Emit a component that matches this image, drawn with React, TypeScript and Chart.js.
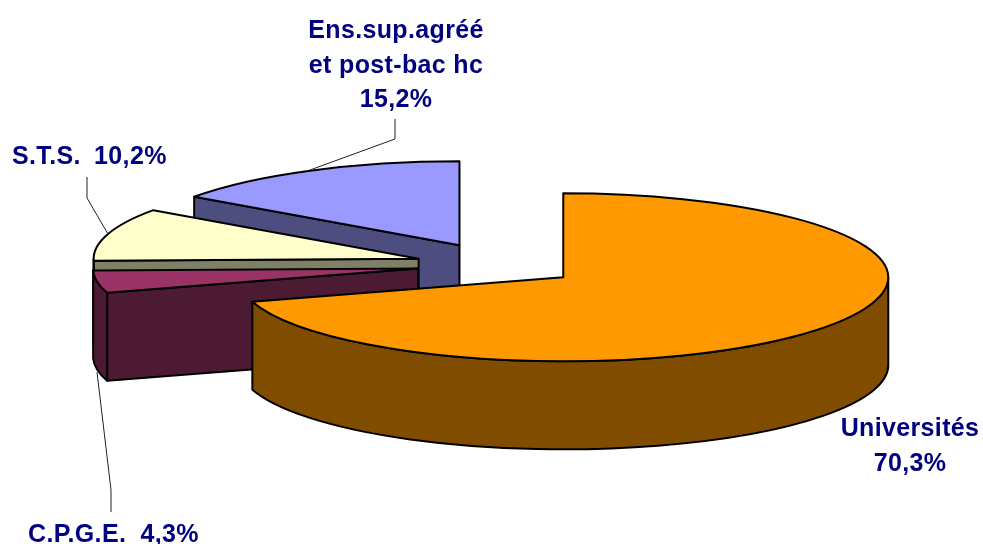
import React, { useEffect, useRef } from "react";
import { Chart, registerables } from "chart.js";

Chart.register(...registerables);

const categories = ["Universités", "C.P.G.E.", "S.T.S.", "Ens.sup.agréé et post-bac hc"];
const shares = [70.3, 4.3, 10.2, 15.2];
const topColors = ["#FF9900", "#993366", "#FFFFCC", "#9999FF"];
const wallColors = ["#804D00", "#4D1A33", "#808066", "#4D4D80"];
const labelLines = [["Universités", "70,3%"], ["C.P.G.E. 4,3%"], ["S.T.S. 10,2%"], ["Ens.sup.agréé", "et post-bac hc", "15,2%"]];
const labelAnchors: [number, number, CanvasTextAlign][] = [[910, 436, "center"], [28, 542, "left"], [12, 164, "left"], [396, 38, "center"]];
const labelWordGaps = [0, 7, 6, 0];
const leaders = [
  [] as number[][],
  [[111, 512], [111, 490], [97, 372]],
  [[87, 177], [87, 198], [108, 234]],
  [[395, 119], [395, 139], [310, 170]],
];
const explodeBy = [80, 82, 84, 86];
const drawOrder = [3, 2, 1, 0];

const RADIUS = 325;
const TILT = 0.2585;
const DEPTH = 88;
const LABEL_FONT = "bold 25px 'Liberation Sans', Arial, sans-serif";

const pie3d = {
  id: "pie3d",
  beforeDatasetsDraw(chart: any) {
    const ctx: CanvasRenderingContext2D = chart.ctx;
    const arcs = chart.getDatasetMeta(0).data;
    drawOrder.forEach((i) => {
      const el = arcs[i];
      const { x, y, startAngle, endAngle, outerRadius: R } = el;
      const mid = (startAngle + endAngle) / 2;
      const cx = x + Math.cos(mid) * explodeBy[i];
      const cy = y + Math.sin(mid) * explodeBy[i] * TILT;
      const px = (a: number) => cx + R * Math.cos(a);
      const py = (a: number) => cy + R * TILT * Math.sin(a);

      ctx.save();
      ctx.lineWidth = 2;
      ctx.lineJoin = "round";
      ctx.strokeStyle = "#000";
      ctx.fillStyle = wallColors[i];

      // Only the radial wall of the start edge can face the viewer here.
      if (Math.sin(startAngle - Math.PI / 2) > 0.01) {
        const a = startAngle;
        ctx.beginPath();
        ctx.moveTo(cx, cy);
        ctx.lineTo(px(a), py(a));
        ctx.lineTo(px(a), py(a) + DEPTH);
        ctx.lineTo(cx, cy + DEPTH);
        ctx.closePath();
        ctx.fill();
        ctx.stroke();
      }

      const a0 = Math.max(startAngle, 0);
      const a1 = Math.min(endAngle, Math.PI);
      if (a1 > a0) {
        ctx.beginPath();
        ctx.ellipse(cx, cy, R, R * TILT, 0, a0, a1);
        ctx.lineTo(px(a1), py(a1) + DEPTH);
        ctx.ellipse(cx, cy + DEPTH, R, R * TILT, 0, a1, a0, true);
        ctx.closePath();
        ctx.fill();
        ctx.stroke();
      }

      ctx.save();
      ctx.translate(cx - x, cy);
      ctx.scale(1, TILT);
      ctx.translate(0, -y);
      el.draw(ctx);
      ctx.restore();

      ctx.beginPath();
      ctx.moveTo(cx, cy);
      ctx.ellipse(cx, cy, R, R * TILT, 0, startAngle, endAngle);
      ctx.closePath();
      ctx.stroke();
      ctx.restore();
    });
    return false;
  },
  afterDraw(chart: any) {
    const ctx: CanvasRenderingContext2D = chart.ctx;
    ctx.save();
    ctx.strokeStyle = "#222";
    ctx.lineWidth = 1;
    leaders.forEach((pts) => {
      if (!pts.length) return;
      ctx.beginPath();
      pts.forEach(([px, py], k) => (k ? ctx.lineTo(px, py) : ctx.moveTo(px, py)));
      ctx.stroke();
    });
    ctx.fillStyle = "#000080";
    ctx.font = LABEL_FONT;
    (ctx as any).letterSpacing = "0.35px";
    ctx.textBaseline = "alphabetic";
    labelLines.forEach((lines, i) => {
      const [ax, ay, align] = labelAnchors[i];
      ctx.textAlign = align;
      (ctx as any).wordSpacing = labelWordGaps[i] + "px";
      lines.forEach((line, k) => ctx.fillText(line, ax, ay + k * 34.5));
    });
    ctx.restore();
  },
};

export default function App() {
  const ref = useRef<HTMLCanvasElement>(null);
  useEffect(() => {
    const chart = new Chart(ref.current!, {
      type: "pie",
      data: {
        labels: categories,
        datasets: [{ data: shares, backgroundColor: topColors, borderWidth: 0 }],
      },
      options: {
        animation: false,
        responsive: false,
        radius: RADIUS,
        layout: { padding: { left: 15, bottom: 14 } },
        plugins: { legend: { display: false }, tooltip: { enabled: false } },
      },
      plugins: [pie3d],
    } as any);
    return () => chart.destroy();
  }, []);
  return (
    <div style={{ position: "absolute", left: 0, top: 0, width: 983, height: 544, background: "#fff" }}>
      <canvas ref={ref} width={983} height={544} style={{ display: "block" }} />
    </div>
  );
}
